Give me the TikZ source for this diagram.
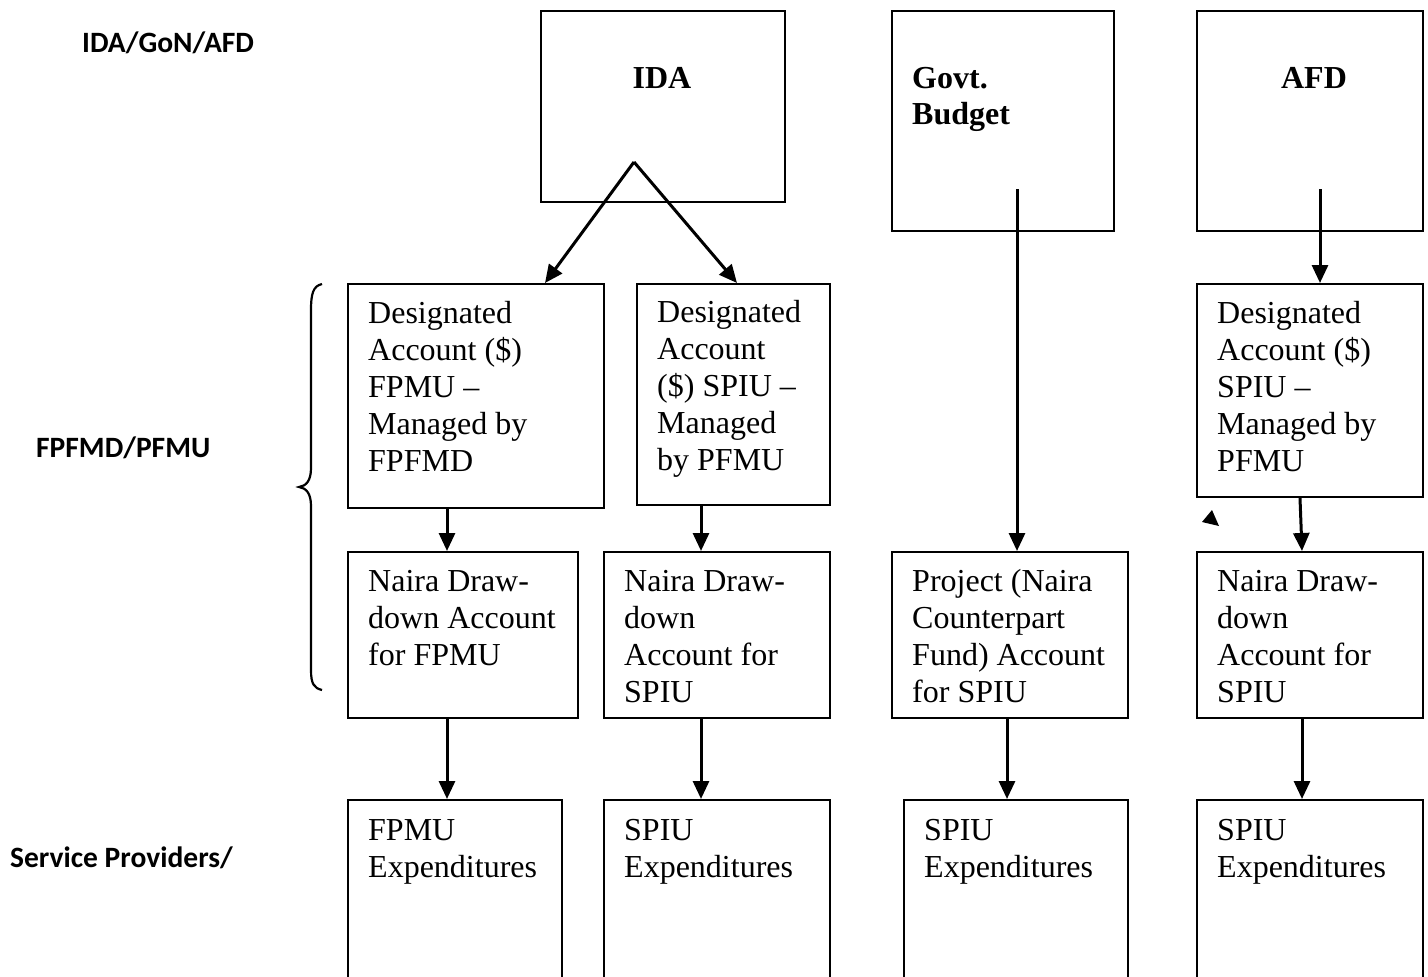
\documentclass[tikz,border=0pt]{standalone}
\usepackage{fontspec}
\setmainfont{Liberation Serif}
\newfontfamily\labfont{Carlito}
\usetikzlibrary{arrows.meta,calc}
\begin{document}
\begin{tikzpicture}[x=1pt,y=-1pt,
  box/.style={draw,line width=2pt,anchor=north west,inner sep=0pt},
  txt/.style={anchor=north west,inner sep=0pt,align=left,font=\fontsize{32}{37}\selectfont},
  src/.style={anchor=base,inner sep=0pt,font=\fontsize{32}{36}\selectfont\bfseries},
  lab/.style={anchor=base west,inner sep=0pt,font=\labfont\bfseries\fontsize{29.5}{34}\selectfont},
  arr/.style={line width=3pt,-{Triangle[length=18pt,width=16pt]}},
  brace/.style={line width=2.2pt}]
\useasboundingbox (0,0) rectangle (1428,977);
\clip (0,0) rectangle (1428,977);
% left labels
\node[lab] (l1) at (82,52) {IDA/GoN/AFD};
\node[lab] (l2) at (36,457) {FPFMD/PFMU};
\node[lab] (l3) at (10,867) {Service Providers/};
% source boxes
\node[box,minimum width=244pt,minimum height=191pt] (ida) at (540,10) {};
\node[box,minimum width=222pt,minimum height=220pt] (gov) at (891,10) {};
\node[box,minimum width=226pt,minimum height=220pt] (afd) at (1196,10) {};
\node[src] (idat) at (662,88) {IDA};
\node[src,anchor=base west,align=left] (govt) at (912,124) {Govt.\\Budget};
\node[src] (afdt) at (1314,88) {AFD};
% designated accounts
\node[box,minimum width=256pt,minimum height=224pt] (daF) at (347,283) {};
\node[box,minimum width=193pt,minimum height=221pt] (daS) at (636,283) {};
\node[box,minimum width=226pt,minimum height=213pt] (daA) at (1196,283) {};
\node[txt] (daFt) at (368,297) {\strut Designated\\Account (\$)\\FPMU --\\Managed by\\FPFMD};
\node[txt] (daSt) at (657,296) {\strut Designated\\Account\\(\$) SPIU --\\Managed\\by PFMU};
\node[txt] (daAt) at (1217,297) {\strut Designated\\Account (\$)\\SPIU --\\Managed by\\PFMU};
% naira accounts
\node[box,minimum width=230pt,minimum height=166pt] (naF) at (347,551) {};
\node[box,minimum width=226pt,minimum height=166pt] (naS) at (603,551) {};
\node[box,minimum width=236pt,minimum height=166pt] (prj) at (891,551) {};
\node[box,minimum width=226pt,minimum height=166pt] (naA) at (1196,551) {};
\node[txt] (naFt) at (368,565) {\strut Naira Draw-\\down Account\\for FPMU};
\node[txt] (naSt) at (624,565) {\strut Naira Draw-\\down\\Account for\\SPIU};
\node[txt] (prjt) at (912,565) {\strut Project (Naira\\Counterpart\\Fund) Account\\for SPIU};
\node[txt] (naAt) at (1217,565) {\strut Naira Draw-\\down\\Account for\\SPIU};
% expenditures
\node[box,minimum width=214pt,minimum height=220pt] (exF) at (347,799) {};
\node[box,minimum width=226pt,minimum height=220pt] (exS) at (603,799) {};
\node[box,minimum width=224pt,minimum height=220pt] (exP) at (903,799) {};
\node[box,minimum width=226pt,minimum height=220pt] (exA) at (1196,799) {};
\node[txt] (exFt) at (368,814) {\strut FPMU\\Expenditures};
\node[txt] (exSt) at (624,814) {\strut SPIU\\Expenditures};
\node[txt] (exPt) at (924,814) {\strut SPIU\\Expenditures};
\node[txt] (exAt) at (1217,814) {\strut SPIU\\Expenditures};
% connectors
\coordinate (idaApex) at (634,162);
\coordinate (govS) at (1017,189);
\coordinate (afdS) at (1320,189);
\draw[arr] (idaApex) -- ([xshift=198pt]daF.north west);
\draw[arr] (idaApex) -- ([xshift=101pt]daS.north west);
\draw[arr] (govS) -- ([xshift=126pt]prj.north west);
\draw[arr] (afdS) -- ([xshift=124pt]daA.north west);
\draw[arr] ([xshift=100pt]daF.south west) -- ([xshift=100pt]naF.north west);
\draw[arr] ([xshift=65pt]daS.south west) -- ([xshift=98pt]naS.north west);
\draw[arr] ([xshift=104pt]daA.south west) -- ([xshift=106pt]naA.north west);
\draw[arr] ([xshift=100pt]naF.south west) -- ([xshift=100pt]exF.north west);
\draw[arr] ([xshift=98pt]naS.south west) -- ([xshift=98pt]exS.north west);
\draw[arr] ([xshift=116pt]prj.south west) -- ([xshift=104pt]exP.north west);
\draw[arr] ([xshift=106pt]naA.south west) -- ([xshift=106pt]exA.north west);
% brace
\draw[brace] (322,284) .. controls (313,286) and (311,294) .. (311,310) -- (311,468)
  .. controls (311,481) and (306,486) .. (299,487)
  .. controls (306,488) and (311,493) .. (311,506) -- (311,670)
  .. controls (311,684) and (314,688) .. (322,690);
% stray arrowhead
\fill (1202,522) -- (1212,510) -- (1219,526) -- cycle;
\end{tikzpicture}
\end{document}
